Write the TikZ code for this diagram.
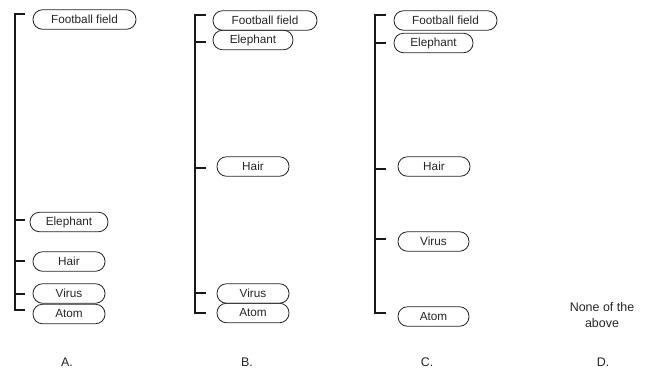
\documentclass[tikz,border=0pt]{standalone}
\usepackage{fontspec}
\setmainfont{Liberation Sans}
\begin{document}
\begin{tikzpicture}[x=1bp,y=-1bp,
  pill/.style={draw=black!85, line width=0.8bp, rounded corners=9.5bp, minimum height=19.5bp, inner sep=0pt, font=\fontsize{11.8}{13}\selectfont, text=black!85},
  bracket/.style={line width=1.8bp, black!90},
  lbl/.style={font=\fontsize{12.5}{16}\selectfont, text=black!85, align=center}]
\useasboundingbox (0,0) rectangle (652,369);
% ---- A ----
\node[pill, minimum width=103bp] (aF) at (84.5,19.5) {Football field};
\node[pill, minimum width=78bp] (aE) at (69,222) {Elephant};
\node[pill, minimum width=72bp] (aH) at (69,261.5) {Hair};
\node[pill, minimum width=72bp] (aV) at (69,293.5) {Virus};
\node[pill, minimum width=72bp] (aA) at (69,314) {Atom};
\coordinate (as1) at (15,14); \coordinate (at1) at (25,14);
\coordinate (as2) at (15,220); \coordinate (at2) at (25,220);
\coordinate (as3) at (15,261); \coordinate (at3) at (25,261);
\coordinate (as4) at (15,294); \coordinate (at4) at (25,294);
\coordinate (as5) at (15,310); \coordinate (at5) at (25,310);
\draw[bracket] (at1) -- (as1) -- (as5) -- (at5);
\draw[bracket] (as2) -- (at2);
\draw[bracket] (as3) -- (at3);
\draw[bracket] (as4) -- (at4);
\node[lbl] (la) at (67,362) {A.};
% ---- B ----
\node[pill, minimum width=104bp] (bF) at (265,20.5) {Football field};
\node[pill, minimum width=80bp] (bE) at (253,40) {Elephant};
\node[pill, minimum width=72bp] (bH) at (253,166.5) {Hair};
\node[pill, minimum width=72bp] (bV) at (253,293.5) {Virus};
\node[pill, minimum width=72bp] (bA) at (253,313) {Atom};
\coordinate (bs1) at (195,15); \coordinate (bt1) at (206,15);
\coordinate (bs2) at (195,42); \coordinate (bt2) at (206,42);
\coordinate (bs3) at (195,168); \coordinate (bt3) at (206,168);
\coordinate (bs4) at (195,293); \coordinate (bt4) at (206,293);
\coordinate (bs5) at (195,313); \coordinate (bt5) at (206,313);
\draw[bracket] (bt1) -- (bs1) -- (bs5) -- (bt5);
\draw[bracket] (bs2) -- (bt2);
\draw[bracket] (bs3) -- (bt3);
\draw[bracket] (bs4) -- (bt4);
\node[lbl] (lb) at (247,362) {B.};
% ---- C ----
\node[pill, minimum width=103bp] (cF) at (445.5,20.5) {Football field};
\node[pill, minimum width=79bp] (cE) at (433.5,43) {Elephant};
\node[pill, minimum width=72bp] (cH) at (434,166.5) {Hair};
\node[pill, minimum width=71bp] (cV) at (433.5,241.5) {Virus};
\node[pill, minimum width=71bp] (cA) at (433.5,316.5) {Atom};
\coordinate (cs1) at (375,15); \coordinate (ct1) at (386,15);
\coordinate (cs2) at (375,43); \coordinate (ct2) at (386,43);
\coordinate (cs3) at (375,169); \coordinate (ct3) at (386,169);
\coordinate (cs4) at (375,239); \coordinate (ct4) at (386,239);
\coordinate (cs5) at (375,313); \coordinate (ct5) at (386,313);
\draw[bracket] (ct1) -- (cs1) -- (cs5) -- (ct5);
\draw[bracket] (cs2) -- (ct2);
\draw[bracket] (cs3) -- (ct3);
\draw[bracket] (cs4) -- (ct4);
\node[lbl] (lc) at (427,362) {C.};
% ---- D ----
\node[lbl] (dn) at (602,315) {None of the\\above};
\node[lbl] (ld) at (603,362) {D.};
\end{tikzpicture}
\end{document}
